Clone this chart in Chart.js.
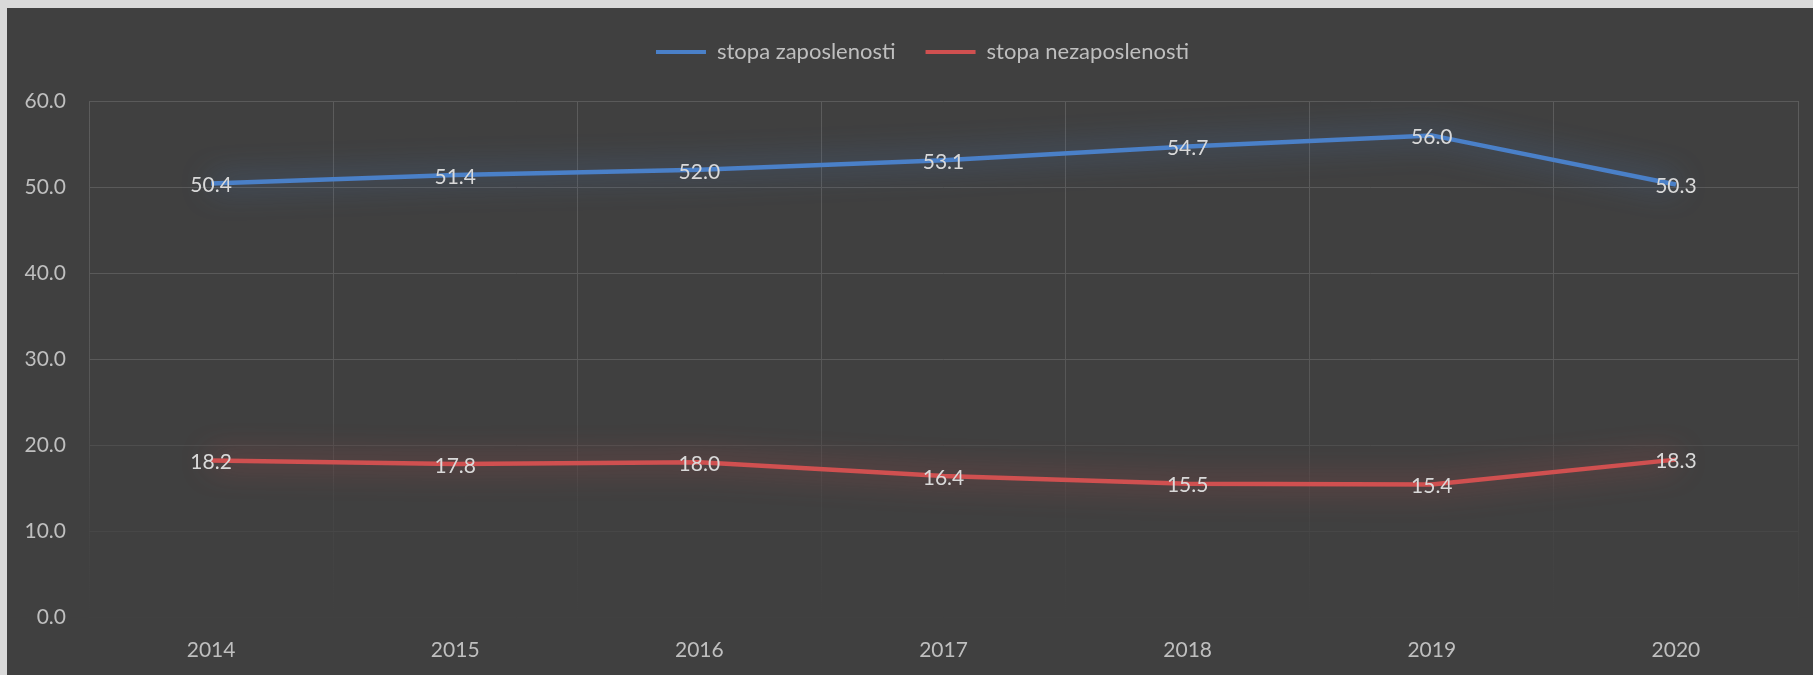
<!DOCTYPE html>
<html>
<head>
<meta charset="utf-8">
<script src="https://cdn.jsdelivr.net/npm/chart.js@4/dist/chart.umd.min.js"></script>
<style>
  html, body { margin: 0; padding: 0; background: #d9d9d9; }
  body { width: 1813px; height: 675px; position: relative; overflow: hidden; }
  #wrap { position: absolute; left: 7px; top: 8px; width: 1806px; height: 667px; background: #404040; }
  canvas { display: block; }
</style>
</head>
<body>
<div id="wrap"><canvas id="c" width="1806" height="667"></canvas></div>
<script>
const categories = ['2014', '2015', '2016', '2017', '2018', '2019', '2020'];
const seriesNames = ['stopa zaposlenosti', 'stopa nezaposlenosti'];
const employment = [50.4, 51.4, 52.0, 53.1, 54.7, 56.0, 50.3];
const unemployment = [18.2, 17.8, 18.0, 16.4, 15.5, 15.4, 18.3];
const yTicks = [0, 10, 20, 30, 40, 50, 60];

const FONT = 'Lato, "Open Sans", sans-serif';

const glowPlugin = {
  id: 'glow',
  beforeDatasetDraw(chart, args) {
    const ds = chart.data.datasets[args.index];
    chart.ctx.save();
    chart.ctx.shadowColor = ds.glowColor;
    chart.ctx.shadowBlur = 30;
  },
  afterDatasetDraw(chart) {
    chart.ctx.restore();
  }
};

const legendShift = {
  id: 'legendShift',
  afterLayout(chart) {
    if (chart.legend) {
      chart.legend.left += 20;
      chart.legend.right += 20;
    }
  }
};

const labelPlugin = {
  id: 'valueLabels',
  afterDatasetsDraw(chart) {
    const ctx = chart.ctx;
    ctx.save();
    ctx.font = '21px ' + FONT;
    ctx.fillStyle = '#d9d9d9';
    ctx.textAlign = 'center';
    ctx.textBaseline = 'middle';
    chart.data.datasets.forEach((ds, i) => {
      const meta = chart.getDatasetMeta(i);
      meta.data.forEach((pt, j) => {
        ctx.fillText(ds.data[j].toFixed(1), pt.x, pt.y + 2);
      });
    });
    ctx.restore();
  }
};

const gridColorY = (c) => {
  const v = c.tick ? c.tick.value : 60;
  if (v >= 30) return '#5a5a5a';
  if (v === 20) return '#4e4e4e';
  if (v === 10) return '#474747';
  return '#414141';
};

const gridColorX = (c) => {
  const chart = c.chart;
  const area = chart.chartArea;
  if (!area) return '#5a5a5a';
  const g = chart.ctx.createLinearGradient(0, area.top, 0, area.bottom);
  g.addColorStop(0, '#5c5c5c');
  g.addColorStop(0.55, '#575757');
  g.addColorStop(0.75, '#474747');
  g.addColorStop(1, '#404040');
  return g;
};

new Chart(document.getElementById('c'), {
  type: 'line',
  data: {
    labels: categories,
    datasets: [
      {
        label: seriesNames[0],
        data: employment,
        borderColor: '#4a80c8',
        backgroundColor: '#4a80c8',
        glowColor: 'rgba(74,128,200,0.9)',
        borderWidth: 4.5,
        pointRadius: 0,
        tension: 0,
        fill: false
      },
      {
        label: seriesNames[1],
        data: unemployment,
        borderColor: '#d05050',
        backgroundColor: '#d05050',
        glowColor: 'rgba(208,80,80,0.9)',
        borderWidth: 4.5,
        pointRadius: 0,
        tension: 0,
        fill: false
      }
    ]
  },
  options: {
    responsive: false,
    animation: false,
    layout: { padding: { top: 3, right: 15, left: 0, bottom: 0 } },
    plugins: {
      tooltip: { enabled: false },
      title: {
        display: true,
        text: '',
        weight: 500,
        font: { size: 1, lineHeight: 1 },
        padding: { top: 27, bottom: 0 }
      },
      legend: {
        display: true,
        position: 'top',
        labels: {
          color: '#bfbfbf',
          font: { size: 22, family: FONT },
          boxWidth: 50,
          boxHeight: 4,
          padding: 30,
          generateLabels(chart) {
            return Chart.defaults.plugins.legend.labels.generateLabels(chart)
              .map(l => Object.assign(l, { lineWidth: 0 }));
          }
        }
      }
    },
    scales: {
      x: {
        offset: true,
        grid: { display: true, offset: true, color: gridColorX, lineWidth: 1, drawTicks: false },
        border: { display: false },
        ticks: { color: '#bfbfbf', font: { size: 21, family: FONT }, padding: 21, maxRotation: 0 },
        afterFit(scale) { scale.height = 58; }
      },
      y: {
        min: 0,
        max: 60,
        afterBuildTicks(scale) { scale.ticks = yTicks.map(v => ({ value: v })); },
        grid: { color: gridColorY, lineWidth: 1, drawTicks: false },
        border: { display: false },
        ticks: {
          color: '#bfbfbf',
          font: { size: 21, family: FONT },
          padding: 23,
          callback: (v) => Number(v).toFixed(1)
        },
        afterFit(scale) { scale.width = 82; }
      }
    }
  },
  plugins: [glowPlugin, legendShift, labelPlugin]
});
</script>
</body>
</html>
